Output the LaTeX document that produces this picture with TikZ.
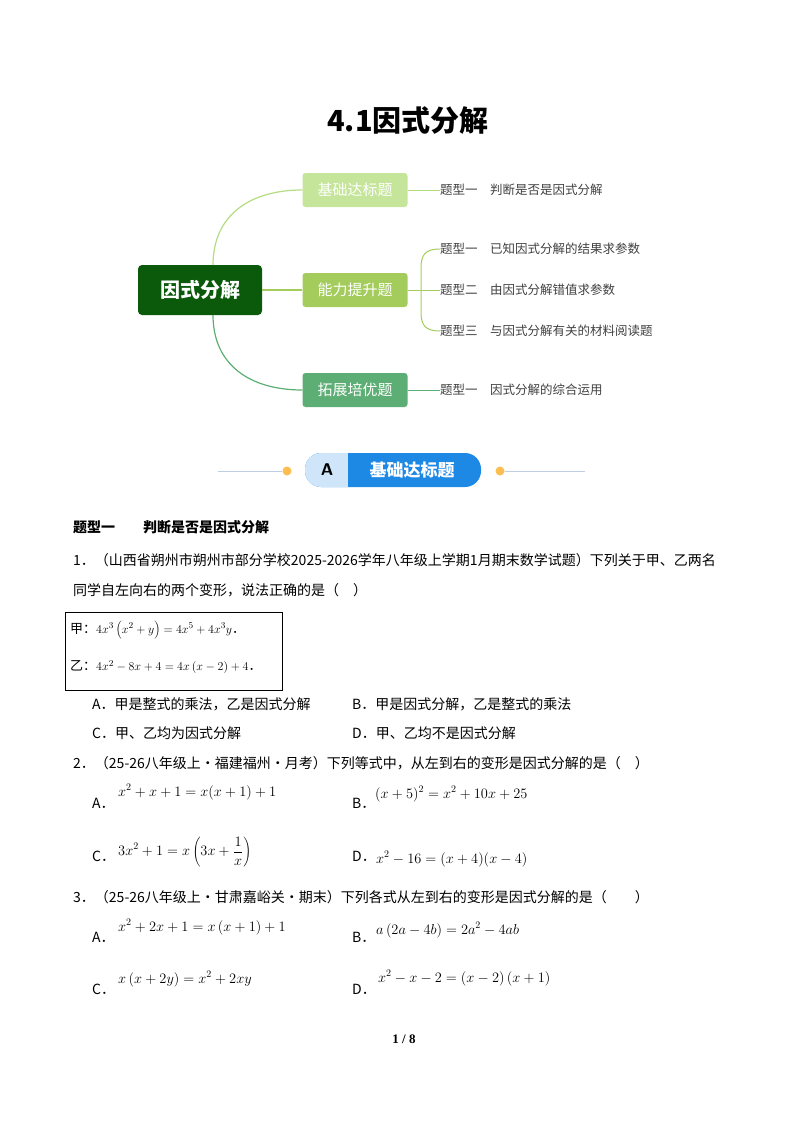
\documentclass[tikz,border=0pt]{standalone}
\usepackage{fontspec}
\setmainfont{Liberation Serif}
\newfontfamily\cjk{Noto Sans CJK SC}
\definecolor{rootc}{RGB}{11,90,11}
\definecolor{c1}{RGB}{197,229,154}
\definecolor{c1l}{RGB}{180,220,130}
\definecolor{c2}{RGB}{163,204,92}
\definecolor{c3}{RGB}{93,174,116}
\definecolor{bblue}{RGB}{30,136,229}
\definecolor{lblue}{RGB}{207,229,250}
\definecolor{dotc}{RGB}{252,190,80}
\definecolor{linec}{RGB}{190,205,225}
\begin{document}
\begin{tikzpicture}[x=1pt,y=-1pt,
  txt/.style={anchor=west,inner sep=0pt,font=\cjk\fontsize{14}{16}\selectfont},
  leaf/.style={anchor=west,inner sep=0pt,font=\cjk\fontsize{12.5}{14}\selectfont,text=black!75},
  branch/.style={rounded corners=3pt,minimum width=105pt,minimum height=34pt,text=white,font=\cjk\fontsize{15}{17}\selectfont},
  fml/.style={anchor=west,inner sep=0pt,font=\fontsize{14}{16}\selectfont}]
\useasboundingbox (0,0) rectangle (800,1132);
\node[font=\cjk\bfseries\fontsize{29}{32}\selectfont] (title) at (408,120) {4.1因式分解};
% mind map
\node[fill=rootc,rounded corners=4pt,minimum width=124pt,minimum height=50pt,text=white,font=\cjk\bfseries\fontsize{20}{22}\selectfont] (root) at (200,290) {因式分解};
\node[branch,fill=c1] (b1) at (355,190) {基础达标题};
\node[branch,fill=c2] (b2) at (355,290) {能力提升题};
\node[branch,fill=c3] (b3) at (355,390) {拓展培优题};
\draw[line width=1.2pt,c1l] (213,265) .. controls (213,215) and (250,190) .. (b1.west);
\draw[line width=1.2pt,c2] (root.east) -- (b2.west);
\draw[line width=1.2pt,c3] (213,315) .. controls (213,365) and (250,390) .. (b3.west);
\node[leaf] (l1) at (440,190) {题型一\quad 判断是否是因式分解};
\node[leaf] (l2) at (440,249) {题型一\quad 已知因式分解的结果求参数};
\node[leaf] (l3) at (440,290) {题型二\quad 由因式分解错值求参数};
\node[leaf] (l4) at (440,331) {题型三\quad 与因式分解有关的材料阅读题};
\node[leaf] (l5) at (440,390) {题型一\quad 因式分解的综合运用};
\draw[line width=1pt,c1l] (b1.east) -- (l1.west);
\draw[line width=1pt,c2] (b2.east) -- (l3.west);
\draw[line width=1pt,c2] (l2.west) .. controls (425,249) and (421,255) .. (421,268) -- (421,312) .. controls (421,325) and (425,331) .. (l4.west);
\draw[line width=1pt,c3] (b3.east) -- (l5.west);
% banner
\coordinate (bl0) at (218,471); \coordinate (br0) at (585,471);
\node[circle,fill=dotc,minimum size=9pt,inner sep=0pt] (d1) at (287,471) {};
\node[circle,fill=dotc,minimum size=9pt,inner sep=0pt] (d2) at (500,471) {};
\draw[line width=1pt,linec] (bl0) -- (d1.west);
\draw[line width=1pt,linec] (d2.east) -- (br0);
\fill[bblue,rounded corners=16pt] (305,453) rectangle (481,487);
\fill[lblue,rounded corners=16pt] (305,453) rectangle (380,487);
\fill[bblue] (348,453) rectangle (382,487);
\node[font=\sffamily\bfseries\fontsize{17}{19}\selectfont] (pa) at (327,470) {A};
\node[text=white,font=\cjk\bfseries\fontsize{17}{19}\selectfont] (pb) at (412,470) {基础达标题};
% body
\node[txt,font=\cjk\bfseries\fontsize{14}{16}\selectfont] (h1) at (73,527) {题型一\qquad 判断是否是因式分解};
\node[txt] (q1a) at (73,560) {1．（山西省朔州市朔州市部分学校2025-2026学年八年级上学期1月期末数学试题）下列关于甲、乙两名};
\node[txt] (q1b) at (73,590) {同学自左向右的两个变形，说法正确的是（\quad ）};
\draw[line width=1pt] (65,612) rectangle (282,690);
\node[txt,font=\cjk\fontsize{13}{15}\selectfont] (jia) at (70,630) {甲：$4x^3\left(x^2+y\right)=4x^5+4x^3y$．};
\node[txt,font=\cjk\fontsize{13}{15}\selectfont] (yi) at (70,667) {乙：$4x^2-8x+4=4x\left(x-2\right)+4$．};
\node[txt] (o1a) at (92,704) {A．甲是整式的乘法，乙是因式分解};
\node[txt] (o1b) at (352,704) {B．甲是因式分解，乙是整式的乘法};
\node[txt] (o1c) at (92,733) {C．甲、乙均为因式分解};
\node[txt] (o1d) at (352,733) {D．甲、乙均不是因式分解};
\node[txt] (q2) at (73,763) {2．（25-26八年级上·福建福州·月考）下列等式中，从左到右的变形是因式分解的是（\quad ）};
\node[txt] (o2a) at (92,803) {A．};
\node[fml] (f2a) at (118,792) {$x^2+x+1=x(x+1)+1$};
\node[txt] (o2b) at (352,803) {B．};
\node[fml] (f2b) at (375,794) {$(x+5)^2=x^2+10x+25$};
\node[txt] (o2c) at (92,856) {C．};
\node[fml] (f2c) at (118,852) {$\displaystyle 3x^2+1=x\left(3x+\frac{1}{x}\right)$};
\node[txt] (o2d) at (352,856) {D．};
\node[fml] (f2d) at (376,859) {$x^2-16=(x+4)(x-4)$};
\node[txt] (q3) at (73,897) {3．（25-26八年级上·甘肃嘉峪关·期末）下列各式从左到右的变形是因式分解的是（\qquad ）};
\node[txt] (o3a) at (92,937) {A．};
\node[fml] (f3a) at (118,927) {$x^2+2x+1=x\left(x+1\right)+1$};
\node[txt] (o3b) at (352,937) {B．};
\node[fml] (f3b) at (376,930) {$a\left(2a-4b\right)=2a^2-4ab$};
\node[txt] (o3c) at (92,989) {C．};
\node[fml] (f3c) at (118,979) {$x\left(x+2y\right)=x^2+2xy$};
\node[txt] (o3d) at (352,989) {D．};
\node[fml] (f3d) at (378,978) {$x^2-x-2=\left(x-2\right)\left(x+1\right)$};
\node[font=\bfseries\fontsize{13}{15}\selectfont] (pg) at (404,1039) {1 / 8};
\end{tikzpicture}
\end{document}
